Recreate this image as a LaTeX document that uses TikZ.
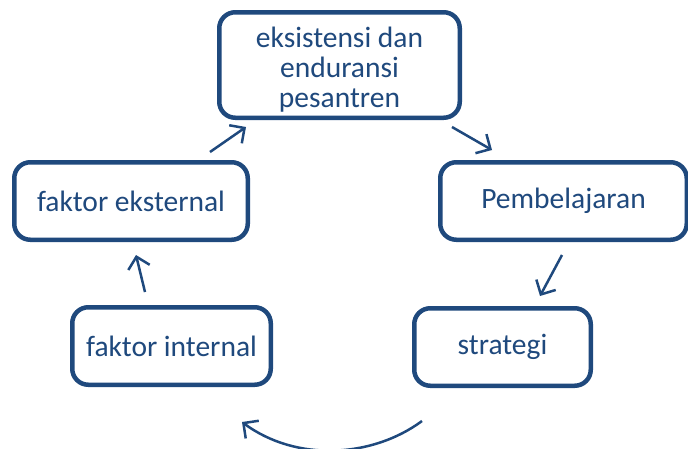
\documentclass[tikz,border=0pt]{standalone}
\usepackage{fontspec}
\setmainfont{Carlito}
\definecolor{boxblue}{RGB}{31, 73, 125}
\usetikzlibrary{arrows.meta}

\tikzset{
  stagebox/.style={draw=boxblue, line width=4.5pt, rounded corners=16pt, fill=white,
                   text=boxblue, font=\fontsize{29.5}{30}\selectfont, align=center,
                   minimum height=77.5pt, inner sep=0pt},
  cyclearrow/.style={-{Straight Barb[length=11pt, width=22pt, line width=2.5pt]},
                     draw=boxblue, line width=2.5pt}
}

\begin{document}
\begin{tikzpicture}[x=1pt, y=-1pt]
                    \useasboundingbox (0, 0) rectangle (688, 448);

                    % Boxes
                    \node[stagebox, minimum width=240.5pt, minimum height=105.5pt] (eksistensi) at (339.5, 65)
                        {\rule{0pt}{30pt}eksistensi dan\\enduransi\\pesantren};
                    \node[stagebox, minimum width=246.5pt] (belajar) at (563.5, 201) {Pembelajaran};
                    \node[stagebox, minimum width=176.5pt] (strategi) at (502.5, 347) {strategi};
                    \node[stagebox, minimum width=198.5pt] (internal) at (171.5, 346) {faktor internal};
                    \node[stagebox, minimum width=233.5pt] (eksternal) at (131, 201) {faktor eksternal};

                    % Arrow ends
                    \coordinate (eksternal-out) at (210, 152);
                    \coordinate (eksistensi-in) at (246, 127);
                    \coordinate (eksistensi-out) at (452, 127);
                    \coordinate (belajar-in) at (492, 150);
                    \coordinate (belajar-out) at (562, 255);
                    \coordinate (strategi-in) at (540, 296);
                    \coordinate (strategi-out) at (422, 421);
                    \coordinate (internal-in) at (242, 422);
                    \coordinate (internal-out) at (145, 292);
                    \coordinate (eksternal-in) at (136, 255);

                    % Cycle
                    \draw[cyclearrow] (eksternal-out) -- (eksistensi-in);
                    \draw[cyclearrow] (eksistensi-out) -- (belajar-in);
                    \draw[cyclearrow] (belajar-out) -- (strategi-in);
                    \draw[cyclearrow] (strategi-out) .. controls (372, 458) and (296, 462) .. (internal-in);
                    \draw[cyclearrow] (internal-out) -- (eksternal-in);
                \end{tikzpicture}
\end{document}
